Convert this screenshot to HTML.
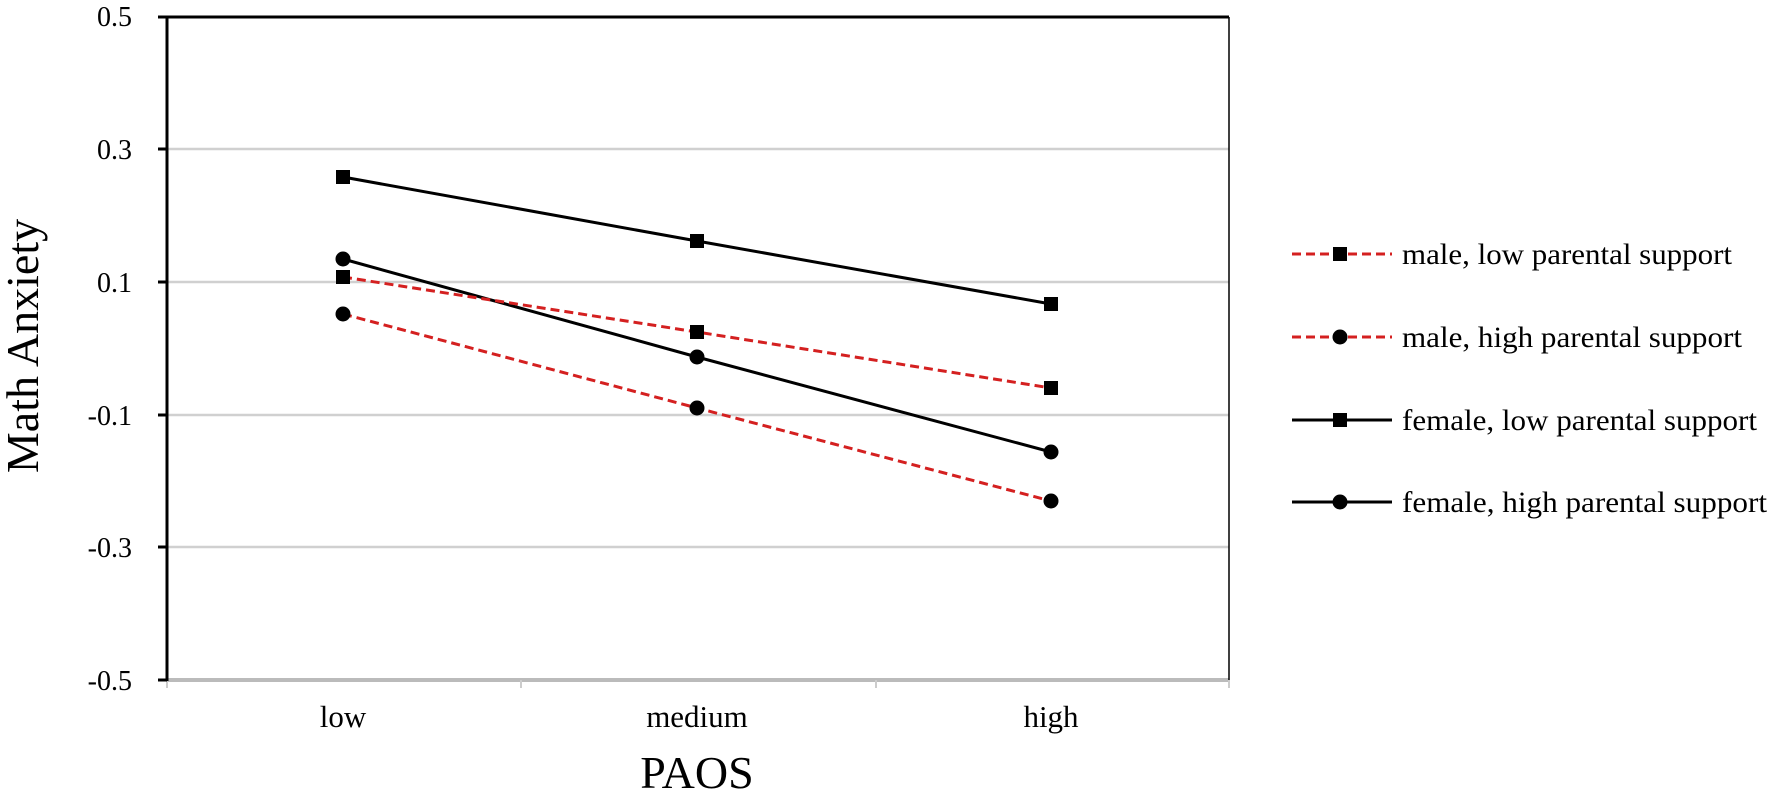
<!DOCTYPE html>
<html><head><style>body{margin:0;background:#fff}</style></head>
<body>
<svg width="1772" height="791" xmlns="http://www.w3.org/2000/svg" font-family="Liberation Serif, serif">
<rect width="1772" height="791" fill="#fff"/>
<g stroke="#d0d0d0" stroke-width="2.5">
<line x1="167" y1="149" x2="1229" y2="149"/>
<line x1="167" y1="282" x2="1229" y2="282"/>
<line x1="167" y1="415" x2="1229" y2="415"/>
<line x1="167" y1="547" x2="1229" y2="547"/>
</g>
<line x1="167" y1="680" x2="1229" y2="680" stroke="#bbb" stroke-width="4"/>
<g stroke="#ccc" stroke-width="2"><line x1="167" y1="680" x2="167" y2="688"/><line x1="521" y1="680" x2="521" y2="688"/><line x1="876" y1="680" x2="876" y2="688"/><line x1="1229" y1="680" x2="1229" y2="688"/></g>
<g stroke="#000" stroke-width="3"><line x1="158" y1="17" x2="167" y2="17"/><line x1="158" y1="149" x2="167" y2="149"/><line x1="158" y1="282" x2="167" y2="282"/><line x1="158" y1="415" x2="167" y2="415"/><line x1="158" y1="547" x2="167" y2="547"/><line x1="158" y1="680" x2="167" y2="680"/></g>
<line x1="165" y1="17" x2="1229" y2="17" stroke="#000" stroke-width="3"/>
<line x1="1229" y1="17" x2="1229" y2="680" stroke="#000" stroke-width="1.5"/>
<line x1="167" y1="16" x2="167" y2="681" stroke="#000" stroke-width="3"/>
<g font-size="28" text-anchor="end" fill="#000">
<text x="132" y="26">0.5</text><text x="132" y="159">0.3</text><text x="132" y="292">0.1</text><text x="132" y="425">-0.1</text><text x="132" y="557">-0.3</text><text x="132" y="690">-0.5</text>
</g>
<g font-size="31" text-anchor="middle"><text x="343" y="727">low</text><text x="697" y="727">medium</text><text x="1051" y="727">high</text></g>
<text x="697" y="788" font-size="46" text-anchor="middle">PAOS</text>
<text transform="translate(38,346) rotate(-90)" font-size="46" text-anchor="middle">Math Anxiety</text>
<g fill="none" stroke-width="3">
<polyline points="343,177 697,241 1051,304" stroke="#000"/>
<polyline points="343,259 697,357 1051,452" stroke="#000"/>
<polyline points="343,277 697,332 1051,388" stroke="#d42020" stroke-dasharray="9,5"/>
<polyline points="343,314 697,408 1051,501" stroke="#d42020" stroke-dasharray="9,5"/>
</g>
<g fill="#000">
<rect x="336" y="170" width="14" height="14"/><rect x="690" y="234" width="14" height="14"/><rect x="1044" y="297" width="14" height="14"/>
<circle cx="343" cy="259" r="7.5"/><circle cx="697" cy="357" r="7.5"/><circle cx="1051" cy="452" r="7.5"/>
<rect x="336" y="270" width="14" height="14"/><rect x="690" y="325" width="14" height="14"/><rect x="1044" y="381" width="14" height="14"/>
<circle cx="343" cy="314" r="7.5"/><circle cx="697" cy="408" r="7.5"/><circle cx="1051" cy="501" r="7.5"/>
</g>
<g stroke-width="3">
<line x1="1292" y1="254" x2="1392" y2="254" stroke="#d42020" stroke-dasharray="9,5"/>
<line x1="1292" y1="337" x2="1392" y2="337" stroke="#d42020" stroke-dasharray="9,5"/>
<line x1="1292" y1="420" x2="1392" y2="420" stroke="#000"/>
<line x1="1292" y1="502" x2="1392" y2="502" stroke="#000"/>
</g>
<g fill="#000">
<rect x="1333" y="247" width="14" height="14"/><circle cx="1340" cy="337" r="7.5"/>
<rect x="1333" y="413" width="14" height="14"/><circle cx="1340" cy="502" r="7.5"/>
</g>
<g font-size="30">
<text x="1402" y="264" textLength="330" lengthAdjust="spacingAndGlyphs">male, low parental support</text>
<text x="1402" y="347" textLength="340" lengthAdjust="spacingAndGlyphs">male, high parental support</text>
<text x="1402" y="430" textLength="355" lengthAdjust="spacingAndGlyphs">female, low parental support</text>
<text x="1402" y="512" textLength="365" lengthAdjust="spacingAndGlyphs">female, high parental support</text>
</g>
</svg>
</body></html>
